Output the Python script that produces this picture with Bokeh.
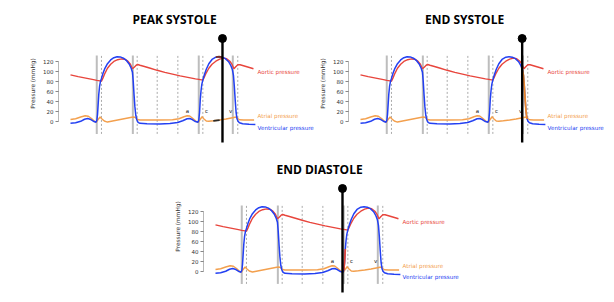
from bokeh.plotting import figure
from bokeh.models import Range1d, FixedTicker, Spacer
from bokeh.layouts import row, column
from bokeh.core.properties import value
from bokeh.embed import file_html
from bokeh.resources import INLINE

# ---------------- data (time in ms, pressure in mmHg) ----------------
t_aortic = [0, 60, 120, 180, 206, 243, 255, 270, 290, 315, 340, 370, 400, 425, 450,
            470, 486, 500, 515, 527, 545, 580, 620, 680, 740, 800, 860, 920, 980, 1006,
            1038, 1050, 1065, 1085, 1110, 1140, 1170, 1200, 1225, 1250, 1268, 1282, 1296,
            1312, 1330, 1370, 1410, 1435]
aortic = [93, 89.5, 86.5, 83.5, 82, 80.5, 87, 96, 106, 114, 119.5, 123, 124.5, 124, 120,
          114, 105, 108, 112, 113.5, 112, 109.5, 106.5, 102, 98, 94.5, 91, 88, 85, 84,
          82.5, 89, 97, 106, 114, 120, 124, 126, 125, 120, 113, 105, 109,
          113, 113, 110, 107, 105]

t_vent = [0, 40, 80, 110, 135, 160, 185, 200, 207, 212, 217, 222, 228, 235, 243, 255,
          270, 290, 315, 340, 365, 390, 415, 440, 460, 476, 486, 492, 498, 505, 512, 520,
          530, 545, 600, 700, 780, 840, 880, 915, 935, 955, 980, 1000, 1006, 1012, 1018,
          1024, 1030, 1038, 1050, 1065, 1085, 1110, 1140, 1165, 1190, 1215, 1240, 1258,
          1270, 1278, 1285, 1292, 1299, 1306, 1314, 1325, 1350, 1400, 1450]
ventricular = [-3, -2, 1, 5, 6.5, 4.5, 0.5, -1, 3, 15, 35, 55, 70, 80, 86, 96,
               106, 115, 122.5, 127, 129, 128.5, 126, 121, 114.5, 106, 98, 80, 55, 30, 13, 4,
               -1, -3, -4, -4.5, -3.5, -1.5, 2, 6, 6.5, 4.5, 0.5, -1, 3, 18, 45,
               62, 74, 83, 93, 104, 115, 123.5, 128, 129, 128, 125, 119, 111,
               103, 92, 70, 42, 18, 6, 1, -2, -4, -5, -5.5]

t_atrial = [0, 40, 80, 115, 140, 165, 190, 203, 215, 232, 245, 265, 290, 310, 350, 400,
            450, 480, 500, 515, 527, 545, 600, 700, 800, 850, 890, 915, 935, 960, 985,
            1003, 1015, 1032, 1045, 1065, 1085, 1120, 1170, 1220, 1260, 1290, 1302, 1314,
            1326, 1360, 1400, 1440]
atrial = [4.5, 6, 9.5, 12, 11, 6.5, 0.5, -0.5, 4, 9.5, 6, 1.5, -0.5, 0.5, 2.5, 5,
          7.5, 9, 9.5, 7, 4.5, 3.5, 3.5, 3.5, 4, 6, 10, 12, 11.5, 6.5, 1,
          -0.5, 4, 10, 6, 1.5, 1, 2, 3.5, 5.5, 7.5, 9, 9.5, 6,
          4, 3.5, 3.5, 3.5]

valve_solid = [206, 489, 1006, 1273]           # valve closures
valve_dashed = [243, 523, 680, 842, 1038, 1312]  # phase boundaries
wave_labels = ["a", "c", "v"]
wave_times = [918, 1067, 1255]
series_names = ["Aortic pressure", "Atrial pressure", "Ventricular pressure"]
panel_titles = ["PEAK SYSTOLE", "END SYSTOLE", "END DIASTOLE"]
marker_times = [1192, 1268, 996]
y_ticks = [0, 20, 40, 60, 80, 100, 120]

# ---------------- styling ----------------
RED = "#e8453c"
ORANGE = "#f3a04e"
BLUE = "#2340f2"
SERIES = {"aortic": (t_aortic, aortic, RED),
          "atrial": (t_atrial, atrial, ORANGE),
          "ventricular": (t_vent, ventricular, BLUE)}

HIGHLIGHTS = [
    [("atrial", 1110, 1185, "#2a2a2a"), ("ventricular", 1125, 1190, "#7a2e22")],
    [("ventricular", 1270, 1310, "#ef8a2c")],
    [("ventricular", 1003, 1020, "#e0483a")],
]

LINE_LO, LINE_HI = -24, 131.5
MARK_LO, MARK_HI = -41, 165
LABEL_T = 1467
LABEL_V = [99.6, 10.5, -11.3]
WAVE_V = 20.4
TITLE_T, TITLE_V = 816, 203.6


def subset(ts, vs, a, b):
    pts = [(t, v) for t, v in zip(ts, vs) if a <= t <= b]
    return [p[0] for p in pts], [p[1] for p in pts]


def make_panel(i, width, height, left, y_lo):
    p = figure(width=width, height=height, output_backend="svg", toolbar_location=None,
               x_range=Range1d(-94.1, 1929.4), y_range=Range1d(y_lo, 224.4),
               x_axis_location=None, min_border_left=left, min_border_right=0,
               min_border_top=0, min_border_bottom=0)
    p.grid.visible = False
    p.outline_line_color = None
    p.background_fill_color = "white"
    p.border_fill_color = "white"

    ax = p.yaxis[0]
    ax.ticker = FixedTicker(ticks=y_ticks)
    ax.bounds = (0, 120)
    ax.axis_label = "Pressure (mmHg)"
    ax.axis_label_text_font = "DejaVu Sans"
    ax.axis_label_text_font_style = "normal"
    ax.axis_label_text_font_size = "5.8px"
    ax.axis_label_text_color = "#333333"
    ax.axis_label_standoff = 4
    ax.major_label_text_font = "DejaVu Sans"
    ax.major_label_text_font_size = "5.5px"
    ax.major_label_text_color = "#333333"
    ax.major_label_standoff = 2
    ax.major_tick_out = 3
    ax.major_tick_in = 0
    ax.minor_tick_out = 0
    ax.minor_tick_in = 0
    ax.axis_line_color = "#888888"
    ax.axis_line_width = 0.6
    ax.major_tick_line_color = "#555555"
    ax.major_tick_line_width = 0.7

    # phase lines
    p.segment(x0=valve_solid, y0=[LINE_LO] * len(valve_solid), x1=valve_solid,
              y1=[LINE_HI] * len(valve_solid), line_color="#bdbdbd", line_width=2)
    p.segment(x0=valve_dashed, y0=[LINE_LO] * len(valve_dashed), x1=valve_dashed,
              y1=[LINE_HI] * len(valve_dashed), line_color="#a0a0a0", line_width=0.9,
              line_dash="2 2")

    # curves
    p.line(t_atrial, atrial, line_color=ORANGE, line_width=1.4)
    p.line(t_aortic, aortic, line_color=RED, line_width=1.4)
    p.line(t_vent, ventricular, line_color=BLUE, line_width=1.5)

    for name, a, b, col in HIGHLIGHTS[i]:
        ts, vs, _ = SERIES[name]
        hx, hy = subset(ts, vs, a, b)
        p.line(hx, hy, line_color=col, line_width=1.8)

    # wave labels
    p.text(x=wave_times, y=[WAVE_V] * 3, text=wave_labels, text_font=value("DejaVu Sans"),
           text_font_size="5.5px", text_color="#222222", text_align="center",
           text_baseline="middle")

    # series labels
    p.text(x=[LABEL_T] * 3, y=LABEL_V, text=series_names, text_font=value("DejaVu Sans"),
           text_font_size="5.6px", text_color=[RED, ORANGE, BLUE], text_align="left",
           text_baseline="middle")

    # title
    p.text(x=[TITLE_T], y=[TITLE_V], text=[panel_titles[i]], text_font=value("Open Sans"),
           text_font_style="bold", text_font_size="12px", text_color="black",
           text_align="center", text_baseline="middle")

    # time marker
    mt = marker_times[i]
    p.segment(x0=[mt], y0=[MARK_LO], x1=[mt], y1=[MARK_HI], line_color="black",
              line_width=2.4)
    p.scatter(x=[mt], y=[MARK_HI], size=8, fill_color="black", line_color="black")
    return p


p1 = make_panel(0, 308, 150, 50, -72.7)
p2 = make_panel(1, 290, 150, 32, -72.7)
p3 = make_panel(2, 308, 136, 50, -45.0)

layout = column(Spacer(width=606, height=8),
                row(Spacer(width=8, height=150), p1, p2),
                row(Spacer(width=153, height=136), p3))

open("out.html", "w").write(file_html(layout, INLINE))
